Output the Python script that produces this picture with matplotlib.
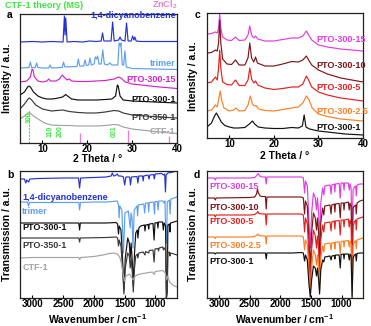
import matplotlib
matplotlib.use('Agg')
import matplotlib.pyplot as plt

plt.rcParams['font.family'] = ['Liberation Sans', 'DejaVu Sans']
plt.rcParams['font.weight'] = 'bold'
plt.rcParams['mathtext.fontset'] = 'custom'
plt.rcParams['mathtext.rm'] = 'Liberation Sans:bold'
plt.rcParams['mathtext.bf'] = 'Liberation Sans:bold'
plt.rcParams['mathtext.default'] = 'bf'

# ---------------- panel a : XRD (2 theta, stacked intensity in a.u.) ----------------
a_dicyano = [(5, 101), (8, 101.5), (10, 101), (12, 101.5), (14.6, 101), (14.9, 127), (15.05, 108),
             (15.2, 125), (15.5, 101), (17, 101.5), (19, 101), (20.5, 102), (22, 101.5), (23.1, 102),
             (23.4, 110), (23.7, 102), (25.3, 102), (25.65, 121), (26.0, 102), (27.0, 103), (27.3, 106),
             (27.6, 103), (28.4, 102), (28.75, 120), (29.1, 102), (29.8, 102), (30.1, 107), (30.4, 103),
             (30.6, 106), (30.9, 102), (32, 101.5), (35, 101.5), (40, 101.5)]
a_trimer = [(5, 75), (7.0, 75.5), (7.3, 81), (7.6, 75.5), (8.4, 75.5), (8.7, 80), (9.0, 75.5), (10, 75),
            (11.4, 75), (11.7, 78), (12.0, 75), (14.4, 75.5), (14.7, 81), (15.0, 76), (17.7, 76.5),
            (18.0, 84), (18.3, 77), (19.2, 77), (19.5, 83), (19.8, 77.5), (20.3, 78), (20.6, 85),
            (20.9, 78), (21.5, 79), (21.8, 86), (22.1, 84), (22.3, 87), (22.6, 79), (23.1, 79),
            (23.45, 93), (23.8, 79), (24.5, 78), (25.0, 80), (25.5, 78), (26.8, 78), (27.1, 100),
            (27.35, 97), (27.5, 100), (27.8, 78), (28.1, 78), (28.4, 92), (28.7, 76), (30, 74.5),
            (35, 74), (40, 73.5)]
a_pto300_15 = [(5, 61), (6.5, 62), (7.3, 66), (7.7, 74), (7.9, 73), (8.2, 66), (9, 62), (10, 61),
               (11.0, 62), (11.4, 64), (11.8, 62), (13, 62), (13.8, 64), (14.4, 68), (14.8, 66),
               (15.5, 63), (16.0, 64), (16.5, 62), (18, 61.5), (20, 61.5), (22, 62), (24, 62.5),
               (26, 64), (27.0, 66), (27.5, 65), (28.5, 61), (30, 59), (35, 56.5), (40, 54.5)]
a_pto300_1 = [(5, 48), (6.0, 51), (6.7, 56), (7.0, 57), (7.4, 55.5), (8, 51), (9, 47), (10, 45), (11, 44),
              (12, 44), (13, 44.5), (14.5, 46), (15.2, 48.5), (15.6, 47), (16.5, 44), (18, 43), (20, 43),
              (22, 43), (24, 43.5), (25.5, 44), (26.3, 47), (26.7, 58), (26.9, 57), (27.3, 47), (28, 43),
              (30, 42), (35, 41), (40, 40)]
a_pto350_1 = [(5, 34), (6.0, 39), (6.8, 44), (7.1, 45), (7.6, 43), (8.5, 38), (10, 34), (12, 32),
              (14.5, 33), (16, 31.5), (18, 30.5), (20, 30), (22, 30), (24, 31), (26, 32.5), (27, 32),
              (28, 30), (30, 28), (33, 27), (36, 26), (40, 25)]
a_ctf1 = [(5, 24), (6.0, 27), (6.8, 30), (7.2, 30), (8, 27), (9, 24), (10.5, 20), (12, 18), (14, 17.5),
          (16, 17.5), (18, 17), (20, 17), (22, 17), (24, 17.5), (26, 18.5), (27, 18), (28, 16), (30, 14),
          (33, 12.5), (36, 11), (40, 9.5)]
a_names = ['1,4-dicyanobenzene', 'trimer', 'PTO-300-15', 'PTO-300-1', 'PTO-350-1', 'CTF-1']
a_label_y = [127, 80, 63, 43, 26, 11]

# CTF-1 theory reflections and ZnCl2 reference lines
ctf_hkl = ['100', '110', '200', '001']
ctf_pos = [7.0, 11.8, 14.0, 26.0]
zncl2_pos = [18.4, 29.1, 38.3]
zncl2_int = [10, 13, 7]

# ---------------- panel c : XRD of PTO-300-x ----------------
c_pto300_15 = [(5, 104), (6, 104.5), (6.9, 106), (7.3, 105), (7.6, 110), (7.85, 124), (8.1, 110),
               (8.5, 101), (9.5, 98), (10.5, 97.5), (11.4, 101), (12.2, 97.5), (13.5, 98), (14.2, 103),
               (14.6, 112), (15.0, 103), (15.5, 100), (15.9, 102), (16.4, 99), (18, 97), (20, 97),
               (22, 98.5), (24, 100), (25.5, 100), (26.5, 102), (27.3, 107), (27.8, 103), (28.5, 98),
               (30, 93), (32, 91), (35, 89), (40, 87)]
c_pto300_10 = [(5, 85), (6, 85.5), (6.9, 88), (7.3, 87), (7.6, 95), (7.85, 118), (8.1, 95), (8.5, 79),
               (9.5, 74), (10.5, 73.5), (11.4, 78), (12.2, 73), (13.5, 73), (14.2, 80), (14.6, 95),
               (15.0, 80), (15.5, 76), (15.9, 81), (16.3, 75), (18, 72), (20, 72), (22, 74), (24, 76.5),
               (25.5, 76), (26.5, 78), (27.3, 82), (27.8, 78), (28.5, 73), (30, 68), (32, 64), (35, 60),
               (40, 56)]
c_pto300_5 = [(5, 55), (6, 56), (6.9, 61), (7.3, 58), (7.6, 70), (7.85, 88), (8.1, 70), (8.5, 56),
              (9.5, 53.5), (10.5, 53), (11.4, 58), (12.2, 52.5), (13.5, 52.5), (14.2, 58), (14.6, 70),
              (15.0, 59), (15.5, 55), (15.9, 57), (16.4, 53), (18, 50), (20, 48.5), (22, 49.5), (24, 51),
              (25.5, 51), (26.5, 54), (27.3, 62), (27.8, 58), (28.5, 51), (30, 46), (32, 43), (35, 40),
              (40, 37)]
c_pto300_2_5 = [(5, 27), (6, 28), (6.9, 33), (7.3, 31), (7.6, 38), (7.95, 47), (8.3, 38), (8.8, 30),
                (10, 27), (11, 28), (11.5, 30), (12.2, 27), (13.5, 27.5), (14.2, 33), (14.7, 42),
                (15.2, 34), (15.6, 32), (16.0, 32.5), (16.6, 29), (18, 27.5), (20, 27), (22, 28.5),
                (24, 30), (25.5, 31), (26.5, 35), (27.3, 42), (27.9, 38), (28.6, 30), (30, 24),
                (32, 21.5), (35, 19), (40, 17)]
c_pto300_1 = [(5, 11), (6, 15), (6.7, 22), (7.1, 25), (7.5, 22), (8.2, 16), (9, 12.5), (10, 11), (11, 10),
              (12, 10), (13.5, 10.5), (14.5, 14), (15.2, 17), (15.7, 14), (16.5, 11), (18, 10),
              (20, 9.5), (22, 9.5), (24, 10.5), (25.5, 10), (26.4, 12), (26.8, 23), (27.2, 11), (28, 9),
              (30, 7), (33, 5.5), (36, 4), (40, 3)]
c_names = ['PTO-300-15', 'PTO-300-10', 'PTO-300-5', 'PTO-300-2.5', 'PTO-300-1']
c_label_y = [98, 73, 50, 27, 10]

# ---------------- panel b : FTIR (wavenumber, stacked transmission) ----------------
b_dicyano = [(3200, 119), (3130, 119), (3105, 115), (3090, 118), (3060, 116), (3040, 119), (2900, 119.5),
             (2500, 120), (2250, 120), (2232, 110), (2215, 120), (2000, 120.5), (1800, 121), (1720, 122),
             (1700, 125), (1680, 122), (1650, 122.5), (1620, 124), (1600, 122), (1560, 122), (1520, 121),
             (1500, 113), (1480, 121), (1420, 121), (1405, 113), (1390, 121), (1300, 121.5), (1285, 115),
             (1270, 122), (1210, 122), (1200, 117), (1190, 122), (1120, 123), (1105, 119), (1090, 123),
             (1030, 123.5), (1018, 119), (1005, 124), (900, 124.5), (870, 123), (850, 124), (838, 106),
             (826, 123), (800, 125), (750, 125.5), (650, 127)]
b_trimer = [(3200, 96), (3080, 96), (3060, 92), (3045, 95.5), (2900, 95.5), (2500, 95.5), (2245, 95.5),
            (2232, 88), (2218, 95.5), (2000, 96), (1800, 96), (1700, 96.5), (1620, 97), (1600, 93),
            (1590, 80), (1580, 92), (1545, 88), (1520, 45), (1495, 85), (1440, 87), (1410, 70), (1395, 85),
            (1380, 80), (1365, 50), (1345, 88), (1300, 92), (1290, 82), (1278, 93), (1190, 94), (1175, 85),
            (1160, 95), (1120, 95), (1110, 86), (1100, 95.5), (1030, 96), (1015, 84), (1005, 96.5),
            (970, 96.5), (958, 88), (945, 97), (880, 97), (860, 95), (845, 97), (835, 65), (820, 55),
            (808, 96), (775, 98), (762, 84), (750, 99), (700, 100), (650, 101)]
b_pto300_1 = [(3200, 75), (2600, 75), (2245, 75), (2232, 68), (2220, 75), (1800, 75), (1640, 75.5),
              (1615, 74), (1600, 64), (1588, 72), (1560, 68), (1535, 40), (1512, 8), (1490, 40), (1450, 60),
              (1425, 55), (1410, 40), (1395, 55), (1375, 35), (1360, 12), (1340, 45), (1320, 65),
              (1295, 68), (1285, 60), (1270, 70), (1240, 72), (1180, 73), (1170, 67), (1160, 73),
              (1120, 73.5), (1110, 69), (1100, 74), (1040, 74.5), (1022, 58), (1008, 75), (970, 75.5),
              (960, 70), (950, 76), (885, 76), (872, 68), (860, 75), (835, 72), (822, 0), (808, 10),
              (798, 73), (775, 74), (765, 66), (755, 75), (700, 76), (650, 77)]
b_pto350_1 = [(3200, 60), (2600, 60), (2245, 60), (2232, 56), (2220, 60), (1800, 60.5), (1640, 61),
              (1615, 60), (1600, 52), (1588, 58), (1560, 52), (1535, 30), (1512, 4), (1490, 30), (1450, 45),
              (1425, 42), (1410, 30), (1395, 40), (1375, 25), (1360, 6), (1340, 30), (1320, 42), (1295, 44),
              (1285, 40), (1270, 45), (1200, 46), (1170, 43), (1160, 46.5), (1110, 45), (1100, 47.5),
              (1040, 48), (1022, 36), (1008, 49), (960, 49.5), (950, 47), (940, 50), (880, 51), (870, 48),
              (855, 50), (835, 48), (822, 0), (808, 5), (798, 45), (775, 46), (765, 42), (755, 45),
              (700, 44), (650, 43)]
b_ctf1 = [(3200, 40), (3000, 40.5), (2600, 40.5), (2245, 40.5), (2230, 38.5), (2215, 40.5), (2000, 41.5),
          (1850, 43), (1750, 44.5), (1680, 45), (1620, 44), (1580, 41), (1550, 34), (1520, 22), (1505, 17),
          (1480, 22), (1420, 24), (1400, 22), (1360, 18), (1340, 21), (1300, 23), (1250, 24), (1150, 25),
          (1050, 26), (1020, 23.5), (1005, 26.5), (950, 27), (880, 27.5), (840, 25), (818, 18), (800, 22),
          (770, 16), (720, 13), (650, 11)]
b_names = ['1,4-dicyanobenzene', 'trimer', 'PTO-300-1', 'PTO-350-1', 'CTF-1']
b_label_y = [101, 86, 71, 53, 31]

# ---------------- panel d : FTIR of PTO-300-x ----------------
d_pto300_15 = [(3200, 120), (3080, 120), (3065, 118), (3050, 120), (2500, 120), (2420, 120.5), (2380, 123),
               (2360, 124.5), (2340, 122), (2300, 121), (2245, 121), (2232, 114), (2220, 121), (2000, 121),
               (1800, 121), (1660, 121), (1625, 120), (1605, 105), (1590, 117), (1560, 112), (1535, 80),
               (1512, 50), (1490, 85), (1460, 105), (1430, 100), (1410, 88), (1395, 100), (1375, 85),
               (1360, 55), (1340, 95), (1310, 110), (1290, 103), (1275, 112), (1190, 113), (1172, 104),
               (1160, 113), (1120, 114), (1110, 106), (1100, 114), (1040, 114.5), (1022, 100), (1008, 115),
               (970, 115), (960, 108), (950, 115), (890, 115), (875, 108), (862, 114), (845, 110), (828, 62),
               (812, 108), (790, 111), (770, 112), (760, 102), (748, 113), (700, 114), (650, 114)]
d_pto300_10 = [(3200, 100), (3080, 100), (3065, 98), (3050, 100), (2500, 100.5), (2420, 101), (2390, 104),
               (2375, 109), (2360, 105), (2330, 102), (2300, 101.5), (2245, 101.5), (2232, 89), (2220, 101),
               (2000, 101), (1800, 101), (1660, 101), (1625, 100), (1605, 84), (1590, 97), (1560, 92),
               (1535, 60), (1512, 30), (1490, 65), (1460, 85), (1430, 80), (1410, 68), (1395, 80),
               (1375, 65), (1360, 35), (1340, 75), (1310, 90), (1290, 83), (1275, 92), (1190, 93),
               (1172, 84), (1160, 93), (1120, 94), (1110, 86), (1100, 94), (1040, 94.5), (1022, 80),
               (1008, 95), (970, 95), (960, 88), (950, 95), (890, 96), (875, 88), (862, 95), (845, 92),
               (828, 40), (812, 90), (790, 92), (770, 93), (760, 84), (748, 95), (700, 97), (650, 98)]
d_pto300_5 = [(3200, 83), (3080, 83), (3065, 81), (3050, 83), (2500, 83), (2420, 83.5), (2385, 85),
              (2370, 86.5), (2350, 84.5), (2300, 84), (2245, 84), (2232, 73), (2220, 84), (2000, 84),
              (1800, 84), (1660, 84), (1625, 83), (1605, 66), (1590, 80), (1560, 74), (1535, 42),
              (1512, 15), (1490, 48), (1460, 68), (1430, 62), (1410, 50), (1395, 62), (1375, 48),
              (1360, 20), (1340, 58), (1310, 73), (1290, 66), (1275, 75), (1190, 76), (1172, 67),
              (1160, 76), (1120, 77), (1110, 69), (1100, 77), (1040, 77.5), (1022, 63), (1008, 78),
              (970, 78), (960, 71), (950, 78), (890, 79), (875, 71), (862, 78), (845, 74), (828, 20),
              (812, 72), (790, 76), (770, 78), (760, 68), (748, 79), (700, 80), (650, 81)]
d_pto300_2_5 = [(3200, 61), (3080, 61), (3065, 59.5), (3050, 61), (2500, 61), (2420, 61.5), (2385, 63),
                (2370, 64), (2350, 62.5), (2300, 62), (2245, 62), (2232, 54), (2220, 62), (2000, 62),
                (1800, 62), (1660, 62), (1625, 61), (1605, 48), (1590, 58), (1560, 54), (1535, 25),
                (1512, 5), (1490, 30), (1460, 48), (1430, 43), (1410, 33), (1395, 43), (1375, 30),
                (1360, 8), (1340, 40), (1310, 52), (1290, 46), (1275, 54), (1190, 55), (1172, 48),
                (1160, 55), (1120, 55.5), (1110, 49), (1100, 56), (1040, 56), (1022, 44), (1008, 56.5),
                (970, 57), (960, 51), (950, 57), (890, 57.5), (875, 51), (862, 57), (845, 54), (828, 3),
                (812, 52), (790, 56), (770, 57.5), (760, 49), (748, 58), (700, 59), (650, 60)]
d_pto300_1 = [(3200, 45), (3080, 45), (3065, 44), (3050, 45), (2500, 45), (2245, 45), (2232, 39),
              (2220, 45), (2000, 45), (1800, 45), (1660, 45.5), (1625, 45), (1605, 37), (1590, 43),
              (1560, 38), (1535, 15), (1512, 1), (1490, 18), (1460, 32), (1430, 30), (1410, 22),
              (1395, 30), (1375, 18), (1360, 4), (1340, 28), (1310, 38), (1290, 36), (1275, 41),
              (1190, 42), (1172, 38), (1160, 42), (1120, 42.5), (1110, 39), (1100, 43), (1040, 43),
              (1022, 30), (1008, 43.5), (970, 44), (960, 39), (950, 44), (890, 44), (875, 38), (862, 44),
              (845, 42), (828, 0), (812, 40), (790, 43), (770, 44), (760, 37), (748, 44.5), (700, 45),
              (650, 45)]
d_names = ['PTO-300-15', 'PTO-300-10', 'PTO-300-5', 'PTO-300-2.5', 'PTO-300-1']
d_label_y = [112, 91, 76, 53, 36]

# colours
BLUE, LBLUE = '#2332d8', '#5d9ff0'
MAG_A, MAG = '#d423c6', '#e03de4'
BLACK, DARK, GREY = '#111111', '#3a3a3a', '#a2a2a2'
DRED, RED, ORANGE = '#7d1619', '#e3211f', '#ff7f27'
GREEN, PINK = '#3ee63e', '#e980d2'

W, H = 371, 326


def rect(l, t, r, b):
    return [l / W, 1 - b / H, (r - l) / W, (b - t) / H]


def style(ax):
    for s in ax.spines.values():
        s.set_linewidth(0.9)
        s.set_color('#222222')
    ax.set_yticks([])
    ax.tick_params(axis='x', direction='in', length=2.5, width=0.8, labelsize=7, pad=1.0)
    for lab in ax.get_xticklabels():
        lab.set_fontweight('bold')


def draw(ax, series, colors):
    for pts, col in zip(series, colors):
        xs, ys = zip(*pts)
        ax.plot(xs, ys, color=col, lw=0.85)


fig = plt.figure(figsize=(W / 100, H / 100), dpi=100)

# ---- a ----
ax = fig.add_axes(rect(20, 14, 177, 143))
a_colors = [BLUE, LBLUE, MAG_A, BLACK, DARK, GREY]
draw(ax, [a_dicyano, a_trimer, a_pto300_15, a_pto300_1, a_pto350_1, a_ctf1], a_colors)
for n, y, c in zip(a_names, a_label_y, a_colors):
    ax.text(39.7, y, n, color=c, fontsize=6.5, fontweight='bold', ha='right', va='center')
ax.plot([ctf_pos[0], ctf_pos[0]], [0, 33], color=GREEN, lw=0.8, ls=(0, (2, 1)))
for pos, hkl, yy in zip(ctf_pos, ctf_hkl, [26, 12, 12, 12]):
    ax.text(pos, yy, hkl, color=GREEN, fontsize=5, rotation=90, ha='center', va='center')
ax.vlines(zncl2_pos, 0, zncl2_int, color=PINK, lw=1.0)
ax.set_xlim(5, 40)
ax.set_ylim(0, 129)
ax.set_xticks([10, 20, 30, 40])
style(ax)

# ---- c ----
ax = fig.add_axes(rect(207, 13, 363, 138))
c_colors = [MAG, DRED, RED, ORANGE, BLACK]
draw(ax, [c_pto300_15, c_pto300_10, c_pto300_5, c_pto300_2_5, c_pto300_1], c_colors)
for n, y, c in zip(c_names, c_label_y, c_colors):
    ax.text(29.5, y, n, color=c, fontsize=6.5, fontweight='bold', ha='left', va='center')
ax.set_xlim(5, 40)
ax.set_ylim(0, 125)
ax.set_xticks([10, 20, 30, 40])
style(ax)

# ---- b ----
ax = fig.add_axes(rect(20, 171, 177, 298))
b_colors = [BLUE, LBLUE, BLACK, DARK, GREY]
draw(ax, [b_dicyano, b_trimer, b_pto300_1, b_pto350_1, b_ctf1], b_colors)
for n, y, c in zip(b_names, b_label_y, b_colors):
    ax.text(3165, y, n, color=c, fontsize=6.5, fontweight='bold', ha='left', va='center')
ax.set_xlim(3200, 650)
ax.set_ylim(0, 127)
ax.set_xticks([3000, 2500, 2000, 1500, 1000])
style(ax)

# ---- d ----
ax = fig.add_axes(rect(207, 171, 363, 298))
d_colors = [MAG, DRED, RED, ORANGE, BLACK]
draw(ax, [d_pto300_15, d_pto300_10, d_pto300_5, d_pto300_2_5, d_pto300_1], d_colors)
for n, y, c in zip(d_names, d_label_y, d_colors):
    ax.text(3165, y, n, color=c, fontsize=6.5, fontweight='bold', ha='left', va='center')
ax.set_xlim(3200, 650)
ax.set_ylim(0, 127)
ax.set_xticks([3000, 2500, 2000, 1500, 1000])
style(ax)

# axis titles, panel letters, reference annotations
kw = dict(fontsize=7.5, fontweight='bold', ha='center', va='center')
fig.text(7 / W, 1 - 78 / H, 'Intensity / a.u.', rotation=90, **kw)
fig.text(193 / W, 1 - 76 / H, 'Intensity / a.u.', rotation=90, **kw)
fig.text(7 / W, 1 - 234 / H, 'Transmission / a.u.', rotation=90, **kw)
fig.text(193 / W, 1 - 234 / H, 'Transmission / a.u.', rotation=90, **kw)
fig.text(98 / W, 1 - 159.5 / H, '2 Theta / \u00b0', **kw)
fig.text(285 / W, 1 - 156 / H, '2 Theta / \u00b0', **kw)
fig.text(98 / W, 1 - 319 / H, r'Wavenumber / cm$^{-1}$', **kw)
fig.text(285 / W, 1 - 319 / H, r'Wavenumber / cm$^{-1}$', **kw)
for letter, x, y in [('a', 10, 15), ('b', 10, 175), ('c', 197, 15), ('d', 197, 175)]:
    fig.text(x / W, 1 - y / H, letter, fontsize=7.5, fontweight='bold', ha='center', va='center')
fig.text(5 / W, 1 - 5 / H, 'CTF-1 theory (MS)', color=GREEN, fontsize=6.5, fontweight='bold',
         ha='left', va='center')
fig.text(177 / W, 1 - 5 / H, r'ZnCl$_2$', color=PINK, fontsize=6.5, fontweight='bold',
         ha='right', va='center')

fig.savefig('out.png', dpi=100)
